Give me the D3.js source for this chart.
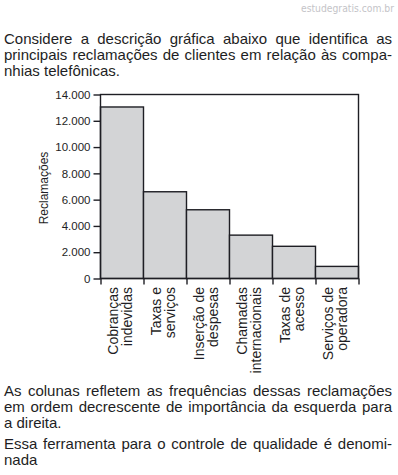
<!DOCTYPE html>
<html>
<head>
<meta charset="utf-8">
<script src="https://cdn.jsdelivr.net/npm/d3@7"></script>
<style>
  body { margin: 0; background: #fff; }
  svg { display: block; font-family: "Liberation Sans", Arial, sans-serif; }
</style>
</head>
<body>
<div id="chart"></div>
<script>
// data
var categories = [
    ["Cobranças", "indevidas"],
    ["Taxas e", "serviços"],
    ["Inserção de", "despesas"],
    ["Chamadas", "internacionais"],
    ["Taxas de", "acesso"],
    ["Serviços de", "operadora"]
];
var complaints = [13050, 6600, 5230, 3300, 2450, 920];
var yTicks = [0, 2000, 4000, 6000, 8000, 10000, 12000, 14000];

var introLines = [
    "Considere a descrição gráfica abaixo que identifica as",
    "principais reclamações de clientes em relação às compa-",
    "nhias telefônicas."
];
var outroLines = [
    "As colunas refletem as frequências dessas reclamações",
    "em ordem decrescente de importância da esquerda para",
    "a direita.",
    "Essa ferramenta para o controle de qualidade é denomi-",
    "nada"
];

var W = 398, H = 475;
var ink = "#1e1e24";

var svg = d3.select("#chart").append("svg")
    .attr("width", W)
    .attr("height", H);

// watermark
svg.append("text")
    .attr("x", 394)
    .attr("y", 12)
    .attr("text-anchor", "end")
    .attr("textLength", 93)
    .attr("lengthAdjust", "spacingAndGlyphs")
    .style("font-family", "'DejaVu Sans', sans-serif")
    .style("font-size", "11px")
    .style("fill", "#c4c4c8")
    .text("estudegratis.com.br");

// justified text: spread words between x0 and x1
var writeLine = function (str, y, justify) {
    var x0 = 4, x1 = 392;
    var g = svg.append("text")
        .attr("y", y)
        .style("font-size", "15px")
        .style("fill", ink);
    if (!justify) {
        g.attr("x", x0).text(str);
        return;
    }
    var words = str.split(" ");
    var spans = words.map(function (w) {
        return g.append("tspan").text(w);
    });
    var widths = spans.map(function (s) { return s.node().getComputedTextLength(); });
    var gap = (x1 - x0 - d3.sum(widths)) / (words.length - 1);
    var x = x0;
    spans.forEach(function (s, i) {
        s.attr("x", x);
        x += widths[i] + gap;
    });
};

[44, 60, 76].forEach(function (y, i) {
    writeLine(introLines[i], y, i < 2);
});
var outroY = [395.5, 411.5, 427.5, 448.5, 464.5];
outroY.forEach(function (y, i) {
    writeLine(outroLines[i], y, i === 0 || i === 1 || i === 3);
});

// chart
var plotL = 100.5, plotR = 358.5, plotT = 94.5, plotB = 278.5;

var x = d3.scaleBand()
    .domain(d3.range(categories.length))
    .range([plotL, plotR])
    .padding(0);

var xEdges = d3.scaleLinear()
    .domain([0, categories.length])
    .range([plotL, plotR]);

var y = d3.scaleLinear()
    .domain([0, 14000])
    .range([plotB, plotT]);

var fmt = d3.formatLocale({ decimal: ",", thousands: ".", grouping: [3], currency: ["R$", ""] }).format(",");

// bars
svg.append("g")
    .selectAll("rect")
    .data(complaints)
    .enter()
    .append("rect")
    .attr("x", function (d, i) { return x(i); })
    .attr("y", function (d) { return y(d); })
    .attr("width", x.bandwidth())
    .attr("height", function (d) { return y(0) - y(d); })
    .style("fill", "#d3d4d6")
    .style("stroke", ink)
    .style("stroke-width", "1.4px");

// frame
svg.append("rect")
    .attr("x", plotL)
    .attr("y", plotT)
    .attr("width", plotR - plotL)
    .attr("height", plotB - plotT)
    .style("fill", "none")
    .style("stroke", ink)
    .style("stroke-width", "1.4px");

// y axis
var yAxis = svg.append("g")
    .attr("transform", "translate(" + plotL + ",0)")
    .call(d3.axisLeft(y).tickValues(yTicks).tickFormat(fmt).tickSize(7).tickPadding(3).tickSizeOuter(0));
yAxis.select(".domain").remove();
yAxis.selectAll("line").style("stroke", ink).style("stroke-width", "1.4px");
yAxis.selectAll("text")
    .style("font-family", "'Liberation Sans', Arial, sans-serif")
    .style("font-size", "11.5px")
    .style("fill", ink);

// x axis ticks on bar edges
var xAxis = svg.append("g")
    .attr("transform", "translate(0," + plotB + ")")
    .call(d3.axisBottom(xEdges).tickValues(d3.range(categories.length + 1)).tickFormat("").tickSize(6).tickSizeOuter(0));
xAxis.select(".domain").remove();
xAxis.selectAll("line").style("stroke", ink).style("stroke-width", "1.4px");

// category labels, rotated
var labels = svg.append("g")
    .selectAll("text")
    .data(categories)
    .enter()
    .append("text")
    .attr("transform", function (d, i) {
        return "translate(" + (x(i) + x.bandwidth() / 2) + ",287) rotate(-90)";
    })
    .attr("text-anchor", "end")
    .style("font-size", "14px")
    .style("fill", ink);

labels.append("tspan")
    .attr("x", 0)
    .attr("y", -4)
    .text(function (d) { return d[0]; });
labels.append("tspan")
    .attr("x", 0)
    .attr("y", 10)
    .text(function (d) { return d[1]; });

// y label
svg.append("text")
    .attr("transform", "translate(48,188) rotate(-90)")
    .attr("text-anchor", "middle")
    .style("font-size", "12px")
    .style("fill", ink)
    .text("Reclamações");
</script>
</body>
</html>
